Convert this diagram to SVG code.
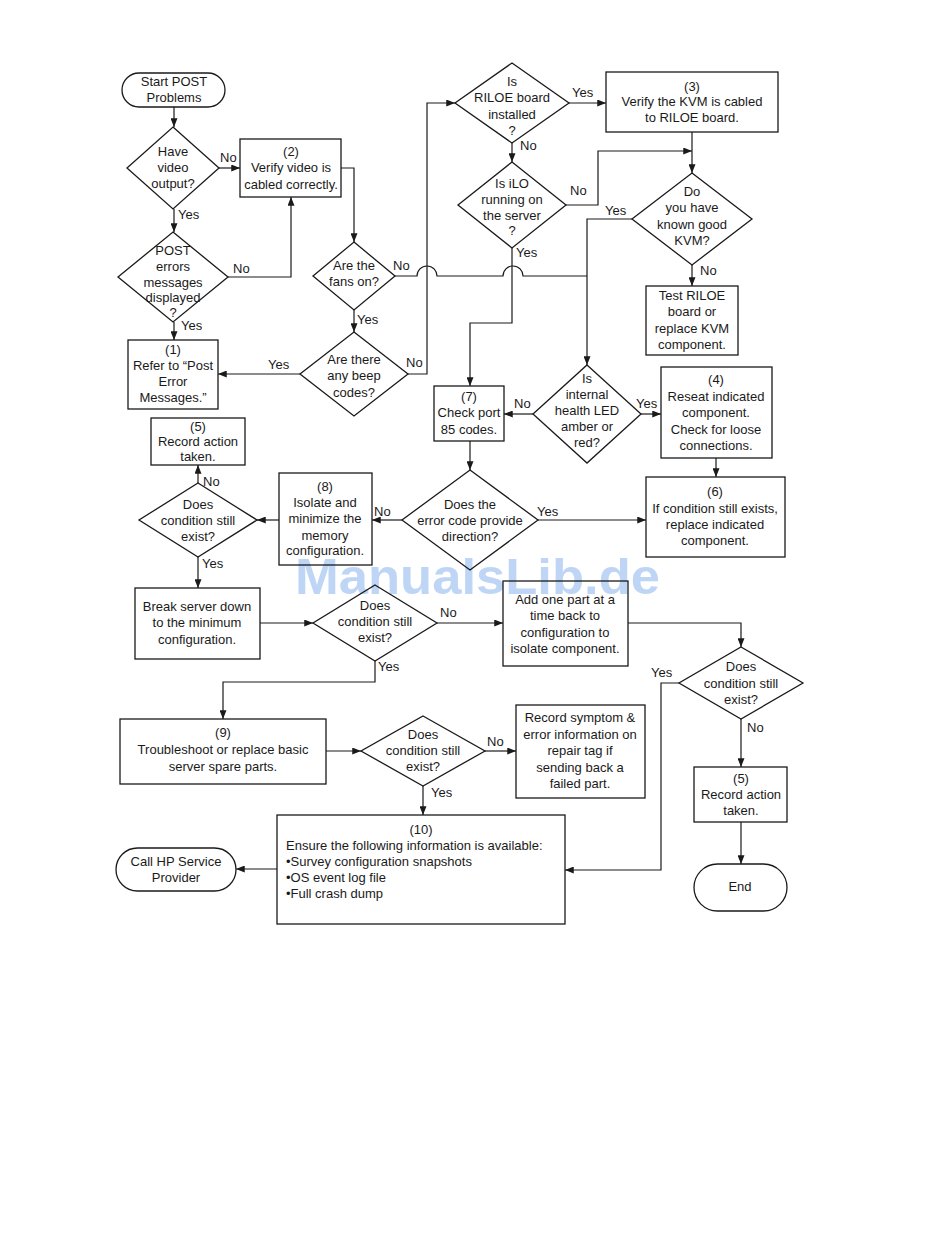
<svg xmlns="http://www.w3.org/2000/svg" width="950" height="1260" viewBox="0 0 950 1260">
<style>
text{font-family:"Liberation Sans",Arial,sans-serif;font-size:13px;fill:#1a1a1a}
.c{text-anchor:middle}
.s{fill:none;stroke:#1a1a1a;stroke-width:1.3}
.e{fill:none;stroke:#1a1a1a;stroke-width:1.2}
.a{marker-end:url(#ah)}
.wm{font-family:"Liberation Sans",Arial,sans-serif;font-size:50px;font-weight:bold;fill:#a9c8f2;opacity:0.75}
</style>
<defs>
<marker id="ah" viewBox="0 0 10 8" refX="10" refY="4" markerWidth="9" markerHeight="7" orient="auto" markerUnits="userSpaceOnUse"><path d="M0,0 L10,4 L0,8 z" fill="#1a1a1a"/></marker>
</defs>
<rect width="950" height="1260" fill="#fff"/>

<text class="wm" x="295" y="594" textLength="365" lengthAdjust="spacingAndGlyphs">ManualsLib.de</text>

<g id="connectors">
<path class="e a" d="M174,107 V127"/>
<path class="e a" d="M219,168 H240"/>
<path class="e a" d="M174,209 V232"/>
<path class="e a" d="M228,277 H291 V197"/>
<path class="e a" d="M174,322 V340"/>
<path class="e a" d="M341,168 H354 V242"/>
<path class="e a" d="M354,310 V332"/>
<path class="e a" d="M300,374 H218"/>
<path class="e a" d="M408,374 H427 V103 H455"/>
<path class="e" d="M395,276 H417 A10,10 0 0,1 437,276 H503 A10,10 0 0,1 523,276 H587"/>
<path class="e a" d="M569,103 H606"/>
<path class="e a" d="M512,143 V162"/>
<path class="e a" d="M566,205 H598 V151 H692"/>
<path class="e a" d="M692,132 V173"/>
<path class="e a" d="M632,219 H587 V365"/>
<path class="e a" d="M692,265 V286"/>
<path class="e a" d="M512,248 V323 H470 V386"/>
<path class="e a" d="M533,414 H504"/>
<path class="e a" d="M641,414 H661"/>
<path class="e a" d="M716,458 V477"/>
<path class="e a" d="M470,441 V470"/>
<path class="e a" d="M538,520 H646"/>
<path class="e a" d="M402,520 H372"/>
<path class="e a" d="M279,520 H257"/>
<path class="e a" d="M198,483 V465"/>
<path class="e a" d="M198,557 V588"/>
<path class="e a" d="M260,623 H313"/>
<path class="e a" d="M437,623 H503"/>
<path class="e a" d="M628,623 H741 V647"/>
<path class="e a" d="M679,683 H661 V870 H565"/>
<path class="e a" d="M741,719 V767"/>
<path class="e a" d="M741,822 V864"/>
<path class="e a" d="M375,661 V682 H223 V719"/>
<path class="e a" d="M326,751 H361"/>
<path class="e a" d="M485,751 H516"/>
<path class="e a" d="M423,786 V815"/>
<path class="e a" d="M277,869 H236"/>
<text x="220" y="162">No</text>
<text x="178" y="219">Yes</text>
<text x="233" y="273">No</text>
<text x="181" y="330">Yes</text>
<text x="393" y="270">No</text>
<text x="357" y="324">Yes</text>
<text x="268" y="369">Yes</text>
<text x="406" y="367">No</text>
<text x="572" y="97">Yes</text>
<text x="520" y="150">No</text>
<text x="570" y="195">No</text>
<text x="516" y="257">Yes</text>
<text x="605" y="215">Yes</text>
<text x="700" y="275">No</text>
<text x="514" y="408">No</text>
<text x="636" y="408">Yes</text>
<text x="537" y="516">Yes</text>
<text x="374" y="516">No</text>
<text x="203" y="486">No</text>
<text x="202" y="568">Yes</text>
<text x="440" y="617">No</text>
<text x="378" y="671">Yes</text>
<text x="651" y="677">Yes</text>
<text x="747" y="732">No</text>
<text x="487" y="746">No</text>
<text x="431" y="797">Yes</text>
</g>

<g id="start"><rect class="s" x="122" y="73" width="103" height="34" rx="17"/><text class="c" x="174" y="86">Start POST</text><text class="c" x="174" y="102">Problems</text></g>
<g id="q-video"><polygon class="s" points="173,127 219,168 173,209 127,168"/><text class="c" x="173" y="156">Have</text><text class="c" x="173" y="172">video</text><text class="c" x="173" y="188">output?</text></g>
<g id="box2"><rect class="s" x="240" y="139" width="101" height="58"/><text class="c" x="291" y="156">(2)</text><text class="c" x="291" y="172">Verify video is</text><text class="c" x="291" y="189">cabled correctly.</text></g>
<g id="q-post"><polygon class="s" points="173,232 228,277 173,322 118,277"/><text class="c" x="173" y="255">POST</text><text class="c" x="173" y="271">errors</text><text class="c" x="173" y="287">messages</text><text class="c" x="173" y="302">displayed</text><text class="c" x="173" y="317">?</text></g>
<g id="box1"><rect class="s" x="128" y="340" width="90" height="69"/><text class="c" x="173" y="354">(1)</text><text class="c" x="173" y="370">Refer to “Post</text><text class="c" x="173" y="386">Error</text><text class="c" x="173" y="402">Messages.”</text></g>
<g id="q-fans"><polygon class="s" points="354,242 395,276 354,310 313,276"/><text class="c" x="354" y="270">Are the</text><text class="c" x="354" y="286">fans on?</text></g>
<g id="q-beep"><polygon class="s" points="354,332 408,374 354,416 300,374"/><text class="c" x="354" y="364">Are there</text><text class="c" x="354" y="380">any beep</text><text class="c" x="354" y="397">codes?</text></g>
<g id="q-riloe"><polygon class="s" points="512,63 569,103 512,143 455,103"/><text class="c" x="512" y="86">Is</text><text class="c" x="512" y="102">RILOE board</text><text class="c" x="512" y="119">installed</text><text class="c" x="512" y="135">?</text></g>
<g id="box3"><rect class="s" x="606" y="72" width="172" height="60"/><text class="c" x="692" y="91">(3)</text><text class="c" x="692" y="106">Verify the KVM is cabled</text><text class="c" x="692" y="122">to RILOE board.</text></g>
<g id="q-ilo"><polygon class="s" points="512,162 566,205 512,248 458,205"/><text class="c" x="512" y="188">Is iLO</text><text class="c" x="512" y="204">running on</text><text class="c" x="512" y="220">the server</text><text class="c" x="512" y="235">?</text></g>
<g id="q-kvm"><polygon class="s" points="692,173 752,219 692,265 632,219"/><text class="c" x="692" y="196">Do</text><text class="c" x="692" y="212">you have</text><text class="c" x="692" y="229">known good</text><text class="c" x="692" y="245">KVM?</text></g>
<g id="box-test"><rect class="s" x="646" y="286" width="92" height="69"/><text class="c" x="692" y="300">Test RILOE</text><text class="c" x="692" y="316">board or</text><text class="c" x="692" y="333">replace KVM</text><text class="c" x="692" y="349">component.</text></g>
<g id="q-health"><polygon class="s" points="587,365 641,414 587,463 533,414"/><text class="c" x="587" y="383">Is</text><text class="c" x="587" y="399">internal</text><text class="c" x="587" y="415">health LED</text><text class="c" x="587" y="431">amber or</text><text class="c" x="587" y="447">red?</text></g>
<g id="box7"><rect class="s" x="434" y="386" width="70" height="55"/><text class="c" x="469" y="401">(7)</text><text class="c" x="469" y="417">Check port</text><text class="c" x="469" y="434">85 codes.</text></g>
<g id="box4"><rect class="s" x="661" y="367" width="111" height="91"/><text class="c" x="716" y="384">(4)</text><text class="c" x="716" y="401">Reseat indicated</text><text class="c" x="716" y="417">component.</text><text class="c" x="716" y="434">Check for loose</text><text class="c" x="716" y="450">connections.</text></g>
<g id="box6"><rect class="s" x="646" y="477" width="139" height="80"/><text class="c" x="715" y="496">(6)</text><text class="c" x="715" y="513">If condition still exists,</text><text class="c" x="715" y="529">replace indicated</text><text class="c" x="715" y="545">component.</text></g>
<g id="q-error"><polygon class="s" points="470,470 538,520 470,570 402,520"/><text class="c" x="470" y="509">Does the</text><text class="c" x="470" y="525">error code provide</text><text class="c" x="470" y="541">direction?</text></g>
<g id="box8"><rect class="s" x="279" y="473" width="93" height="92"/><text class="c" x="325" y="491">(8)</text><text class="c" x="325" y="507">Isolate and</text><text class="c" x="325" y="523">minimize the</text><text class="c" x="325" y="540">memory</text><text class="c" x="325" y="555">configuration.</text></g>
<g id="q-cond-a"><polygon class="s" points="198,483 257,520 198,557 139,520"/><text class="c" x="198" y="509">Does</text><text class="c" x="198" y="525">condition still</text><text class="c" x="198" y="541">exist?</text></g>
<g id="box5a"><rect class="s" x="151" y="418" width="94" height="47"/><text class="c" x="198" y="431">(5)</text><text class="c" x="198" y="446">Record action</text><text class="c" x="198" y="461">taken.</text></g>
<g id="box-break"><rect class="s" x="135" y="588" width="125" height="71"/><text class="c" x="197" y="611">Break server down</text><text class="c" x="197" y="627">to the minimum</text><text class="c" x="197" y="644">configuration.</text></g>
<g id="q-cond-b"><polygon class="s" points="375,585 437,623 375,661 313,623"/><text class="c" x="375" y="610">Does</text><text class="c" x="375" y="626">condition still</text><text class="c" x="375" y="642">exist?</text></g>
<g id="box-add"><rect class="s" x="503" y="581" width="125" height="85"/><text class="c" x="565" y="604">Add one part at a</text><text class="c" x="565" y="620">time back to</text><text class="c" x="565" y="637">configuration to</text><text class="c" x="565" y="653">isolate component.</text></g>
<g id="q-cond-c"><polygon class="s" points="741,647 803,683 741,719 679,683"/><text class="c" x="741" y="671">Does</text><text class="c" x="741" y="688">condition still</text><text class="c" x="741" y="704">exist?</text></g>
<g id="box5b"><rect class="s" x="694" y="767" width="93" height="55"/><text class="c" x="741" y="783">(5)</text><text class="c" x="741" y="799">Record action</text><text class="c" x="741" y="815">taken.</text></g>
<g id="end"><rect class="s" x="694" y="864" width="93" height="47" rx="23.5"/><text class="c" x="740" y="891">End</text></g>
<g id="box9"><rect class="s" x="120" y="719" width="206" height="65"/><text class="c" x="223" y="737">(9)</text><text class="c" x="223" y="754">Troubleshoot or replace basic</text><text class="c" x="223" y="771">server spare parts.</text></g>
<g id="q-cond-d"><polygon class="s" points="423,716 485,751 423,786 361,751"/><text class="c" x="423" y="739">Does</text><text class="c" x="423" y="755">condition still</text><text class="c" x="423" y="771">exist?</text></g>
<g id="box-record"><rect class="s" x="516" y="705" width="129" height="93"/><text class="c" x="580" y="722">Record symptom &amp;</text><text class="c" x="580" y="739">error information on</text><text class="c" x="580" y="755">repair tag if</text><text class="c" x="580" y="772">sending back a</text><text class="c" x="580" y="788">failed part.</text></g>
<g id="box10"><rect class="s" x="277" y="815" width="288" height="109"/><text class="c" x="421" y="834">(10)</text><text x="286" y="850">Ensure the following information is available:</text><text x="286" y="866">•Survey configuration snapshots</text><text x="286" y="882">•OS event log file</text><text x="286" y="898">•Full crash dump</text></g>
<g id="call-hp"><rect class="s" x="116" y="848" width="120" height="43" rx="21.5"/><text class="c" x="176" y="866">Call HP Service</text><text class="c" x="176" y="882">Provider</text></g>
</svg>
